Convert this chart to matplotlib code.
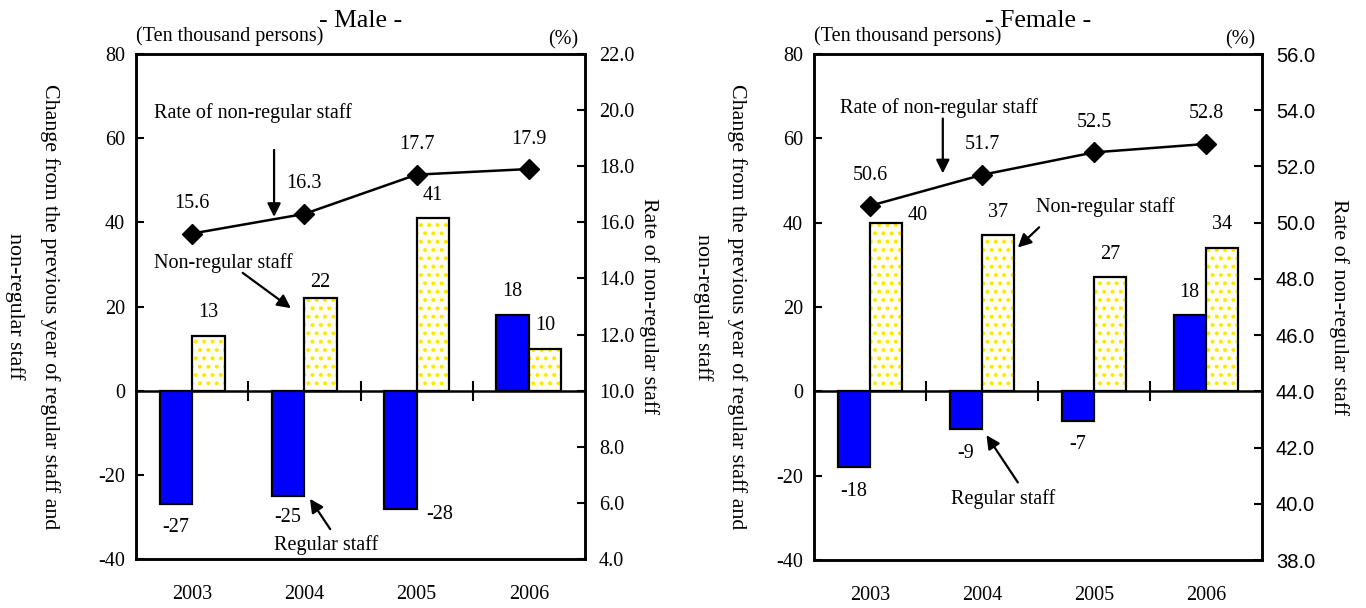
import matplotlib
matplotlib.use("Agg")
import matplotlib.pyplot as plt
import numpy as np

plt.rcParams["font.family"] = ["Liberation Serif", "DejaVu Serif"]
plt.rcParams["hatch.linewidth"] = 1.6
plt.rcParams["axes.unicode_minus"] = False

years = ["2003", "2004", "2005", "2006"]

male_regular = [-27, -25, -28, 18]
male_nonregular = [13, 22, 41, 10]
male_rate = [15.6, 16.3, 17.7, 17.9]

female_regular = [-18, -9, -7, 18]
female_nonregular = [40, 37, 27, 34]
female_rate = [50.6, 51.7, 52.5, 52.8]

# label offsets in pixels (dx, dy) from the bar end
male_reg_off = [(0, -23), (0, -22), (39, -6), (0, 23)]
male_non_off = [(0, 23), (0, 16), (0, 23), (0, 23)]
female_reg_off = [(0, -24), (0, -24), (0, -24), (0, 23)]
female_non_off = [(31, 7), (0, 23), (0, 23), (0, 23)]

FS = 14.5
LFS = 15.8
W = 0.29
BLUE = "#0000FF"
DOT = "#FFE600"


def panel(rect, title, regular, nonregular, rate, rate_lim, reg_off, non_off,
          notes, right_font, left_pad, right_pad):
    ax = fig.add_axes(rect)
    x = np.arange(len(years))
    ax.bar(x - W / 2, regular, W, color=BLUE, edgecolor="black", linewidth=1.6,
           zorder=3)
    ax.bar(x + W / 2, nonregular, W, color="#FFFFF2", edgecolor=DOT,
           hatch="..", linewidth=0, zorder=3)
    ax.bar(x + W / 2, nonregular, W, fill=False, edgecolor="black",
           linewidth=1.6, zorder=4)

    ax.set_xlim(-0.5, len(years) - 0.5)
    ax.set_ylim(-40, 80)
    ax.set_yticks(np.arange(-40, 81, 20))
    ax.set_xticks(x)
    ax.set_xticklabels(years, fontsize=FS)
    ax.tick_params(axis="x", length=0, pad=19)
    ax.tick_params(axis="y", direction="in", length=6, width=1.5,
                   labelsize=FS, pad=8)
    for s in ax.spines.values():
        s.set_linewidth(1.8)

    # zero line with category separators
    zero = ax.secondary_xaxis(40 / 120)
    zero.set_xticks(np.arange(0.5, len(years) - 0.5, 1.0))
    zero.set_xticklabels([])
    zero.tick_params(direction="inout", length=14, width=1.5)
    zero.spines["bottom"].set_linewidth(1.8)
    zero.spines["top"].set_visible(False)

    for xi, v, (dx, dy) in zip(x, regular, reg_off):
        ax.annotate(str(v), (xi - W / 2, v), xytext=(dx, dy),
                    textcoords="offset pixels", ha="center", va="center",
                    fontsize=FS, zorder=5)
    for xi, v, (dx, dy) in zip(x, nonregular, non_off):
        ax.annotate(str(v), (xi + W / 2, v), xytext=(dx, dy),
                    textcoords="offset pixels", ha="center", va="center",
                    fontsize=FS, zorder=5)

    ax2 = ax.twinx()
    ax2.set_ylim(*rate_lim)
    ax2.set_yticks(np.arange(rate_lim[0], rate_lim[1] + 0.01, 2.0))
    ax2.set_yticklabels([f"{t:.1f}" for t in ax2.get_yticks()],
                        family=right_font, fontsize=FS)
    ax2.tick_params(axis="y", direction="in", length=6, width=1.5, pad=10)
    for s in ax2.spines.values():
        s.set_linewidth(1.8)
    ax2.plot(x, rate, color="black", linewidth=1.8, marker="D",
             markersize=10, zorder=6)
    for xi, v in zip(x, rate):
        ax2.annotate(f"{v:.1f}", (xi, v), xytext=(0, 30),
                     textcoords="offset pixels", ha="center", va="center",
                     fontsize=FS)

    arrow = dict(arrowstyle="-|>", color="black", lw=1.6, mutation_scale=20,
                 shrinkA=0, shrinkB=0)
    for text, (tx, ty), ha, (ax0, ay0), (ax1, ay1) in notes:
        ax.text(tx, ty, text, ha=ha, va="center", fontsize=FS, zorder=7)
        ax.annotate("", xy=(ax1, ay1), xytext=(ax0, ay0), arrowprops=arrow,
                    zorder=7)

    ax.set_ylabel("Change from the previous year of regular staff and\n"
                  "non-regular staff", rotation=270, fontsize=LFS,
                  labelpad=left_pad, va="bottom", linespacing=2.0)
    ax2.set_ylabel("Rate of non-regular staff", rotation=270, fontsize=LFS,
                   labelpad=right_pad)

    ax.text(0.5, 1.066, title, transform=ax.transAxes, ha="center",
            va="center", fontsize=18.5)
    ax.text(0.0, 1.035, "(Ten thousand persons)", transform=ax.transAxes,
            ha="left", va="center", fontsize=FS)
    ax.text(0.985, 1.028, "(%)", transform=ax.transAxes, ha="right",
            va="center", fontsize=FS)
    return ax


fig = plt.figure(figsize=(13.66, 6.08), dpi=100)

male_notes = [
    ("Rate of non-regular staff", (-0.34, 65.9), "left", (0.73, 57.2), (0.73, 41.3)),
    ("Non-regular staff", (-0.34, 30.3), "left", (0.45, 28.0), (0.88, 19.6)),
    ("Regular staff", (1.19, -36.7), "center", (1.23, -32.9), (1.05, -25.7)),
]
female_notes = [
    ("Rate of non-regular staff", (-0.27, 67.3), "left", (0.65, 64.7), (0.65, 51.7)),
    ("Non-regular staff", (1.48, 43.6), "left", (1.51, 38.9), (1.32, 34.1)),
    ("Regular staff", (1.19, -25.6), "center", (1.32, -21.6), (1.04, -10.4)),
]

panel([136 / 1366, 49 / 608, 449 / 1366, 505 / 608], "- Male -",
      male_regular, male_nonregular, male_rate, (4.0, 22.0),
      male_reg_off, male_non_off, male_notes, "Liberation Serif", 67, 18)
panel([814 / 1366, 48 / 608, 448 / 1366, 506 / 608], "- Female -",
      female_regular, female_nonregular, female_rate, (38.0, 56.0),
      female_reg_off, female_non_off, female_notes, "Liberation Sans", 60, 24)

fig.savefig("out.png", dpi=100)
